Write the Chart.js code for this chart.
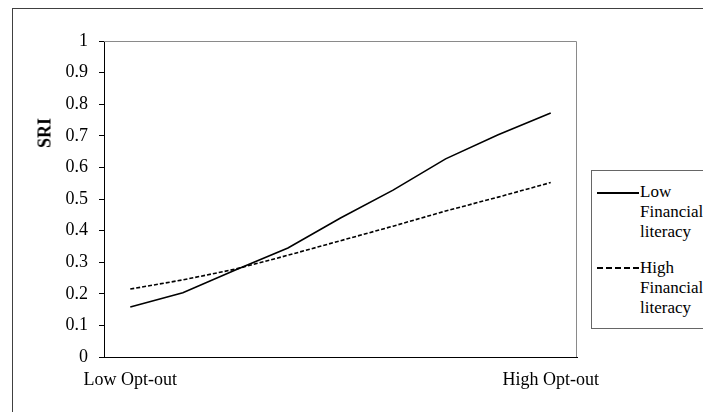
<!DOCTYPE html>
<html>
<head>
<meta charset="utf-8">
<script src="https://cdn.jsdelivr.net/npm/chart.js@4.4.1/dist/chart.umd.min.js"></script>
<style>
    html, body { margin: 0; padding: 0; background: #fff; overflow: hidden; }
    #wrap { position: relative; width: 703px; height: 412px; overflow: hidden; font-family: "Liberation Serif", "Times New Roman", serif; }
    #frame { position: absolute; left: 12px; top: 8px; width: 900px; height: 600px; border-top: 1px solid #404040; border-left: 1px solid #404040; }
    #sriChart { position: absolute; left: 0; top: 0; }
    #ytitle { position: absolute; left: 45px; top: 133px; transform: translate(-50%, -50%) rotate(-90deg); font-weight: bold; font-size: 18px; color: #000; white-space: nowrap; }
    #legend { position: absolute; left: 591px; top: 170px; width: 200px; height: 157px; border: 1px solid #666; background: #fff; font-size: 17px; color: #000; }
    .item { position: absolute; left: 48px; line-height: 20px; }
    .sample { position: absolute; left: 5px; width: 42px; height: 0; }
</style>
</head>
<body>
<div id="wrap">
    <div id="frame"></div>
    <canvas id="sriChart" width="703" height="412"></canvas>
    <div id="ytitle">SRI</div>
    <div id="legend">
        <div class="sample" style="top: 21px; border-top: 2px solid #000;"></div>
        <div class="item" style="top: 11px;">Low<br>Financial<br>literacy</div>
        <div class="sample" style="top: 96px; border-top: 2px dashed #000;"></div>
        <div class="item" style="top: 87px;">High<br>Financial<br>literacy</div>
    </div>
</div>
<script>
    // categories (only the two ends carry a label)
    const categories = ['Low Opt-out', '', '', '', '', '', '', '', 'High Opt-out'];

    // SRI values
    const lowLiteracy = [0.158, 0.203, 0.275, 0.345, 0.44, 0.528, 0.627, 0.703, 0.772];
    const highLiteracy = [0.215, 0.244, 0.278, 0.322, 0.368, 0.414, 0.462, 0.506, 0.552];

    const yTicks = [0, 0.1, 0.2, 0.3, 0.4, 0.5, 0.6, 0.7, 0.8, 0.9, 1];

    // gray top and right edge of the plot box
    const plotBox = {
        id: 'plotBox',
        beforeDatasetsDraw(chart) {
            const { ctx, chartArea: a } = chart;
            ctx.save();
            ctx.strokeStyle = '#8a8a8a';
            ctx.lineWidth = 1;
            ctx.beginPath();
            ctx.moveTo(a.left, a.top + 0.5);
            ctx.lineTo(a.right - 0.5, a.top + 0.5);
            ctx.lineTo(a.right - 0.5, a.bottom);
            ctx.stroke();
            ctx.restore();
        }
    };

    const tickFont = { family: '"Liberation Serif", "Times New Roman", serif', size: 18 };

    new Chart(document.getElementById('sriChart').getContext('2d'), {
        type: 'line',
        data: {
            labels: categories,
            datasets: [{
                label: 'Low Financial literacy',
                data: lowLiteracy,
                borderColor: '#000',
                borderWidth: 1.6,
                pointRadius: 0,
                tension: 0,
                fill: false
            }, {
                label: 'High Financial literacy',
                data: highLiteracy,
                borderColor: '#000',
                borderWidth: 1.6,
                borderDash: [4, 2],
                pointRadius: 0,
                tension: 0,
                fill: false
            }]
        },
        options: {
            responsive: false,
            animation: false,
            layout: { padding: { left: 0, right: 126, top: 41, bottom: 0 } },
            plugins: {
                legend: { display: false },
                tooltip: { enabled: false }
            },
            scales: {
                x: {
                    offset: true,
                    grid: { display: false },
                    border: { display: true, color: '#000', width: 1 },
                    ticks: {
                        color: '#000',
                        font: tickFont,
                        autoSkip: false,
                        maxRotation: 0,
                        padding: 4
                    },
                    afterFit: function(scale) { scale.height = 55; }
                },
                y: {
                    min: 0,
                    max: 1,
                    grid: { display: true, drawOnChartArea: false, drawTicks: true, tickLength: 5, color: '#000' },
                    border: { display: true, color: '#000', width: 1 },
                    afterBuildTicks: function(scale) {
                        scale.ticks = yTicks.map(v => ({ value: v }));
                    },
                    ticks: {
                        color: '#000',
                        font: tickFont,
                        padding: 11,
                        callback: function(value) {
                            return String(Math.round(value * 10) / 10);
                        }
                    },
                    afterFit: function(scale) { scale.width = 104; }
                }
            }
        },
        plugins: [plotBox]
    });
</script>
</body>
</html>
